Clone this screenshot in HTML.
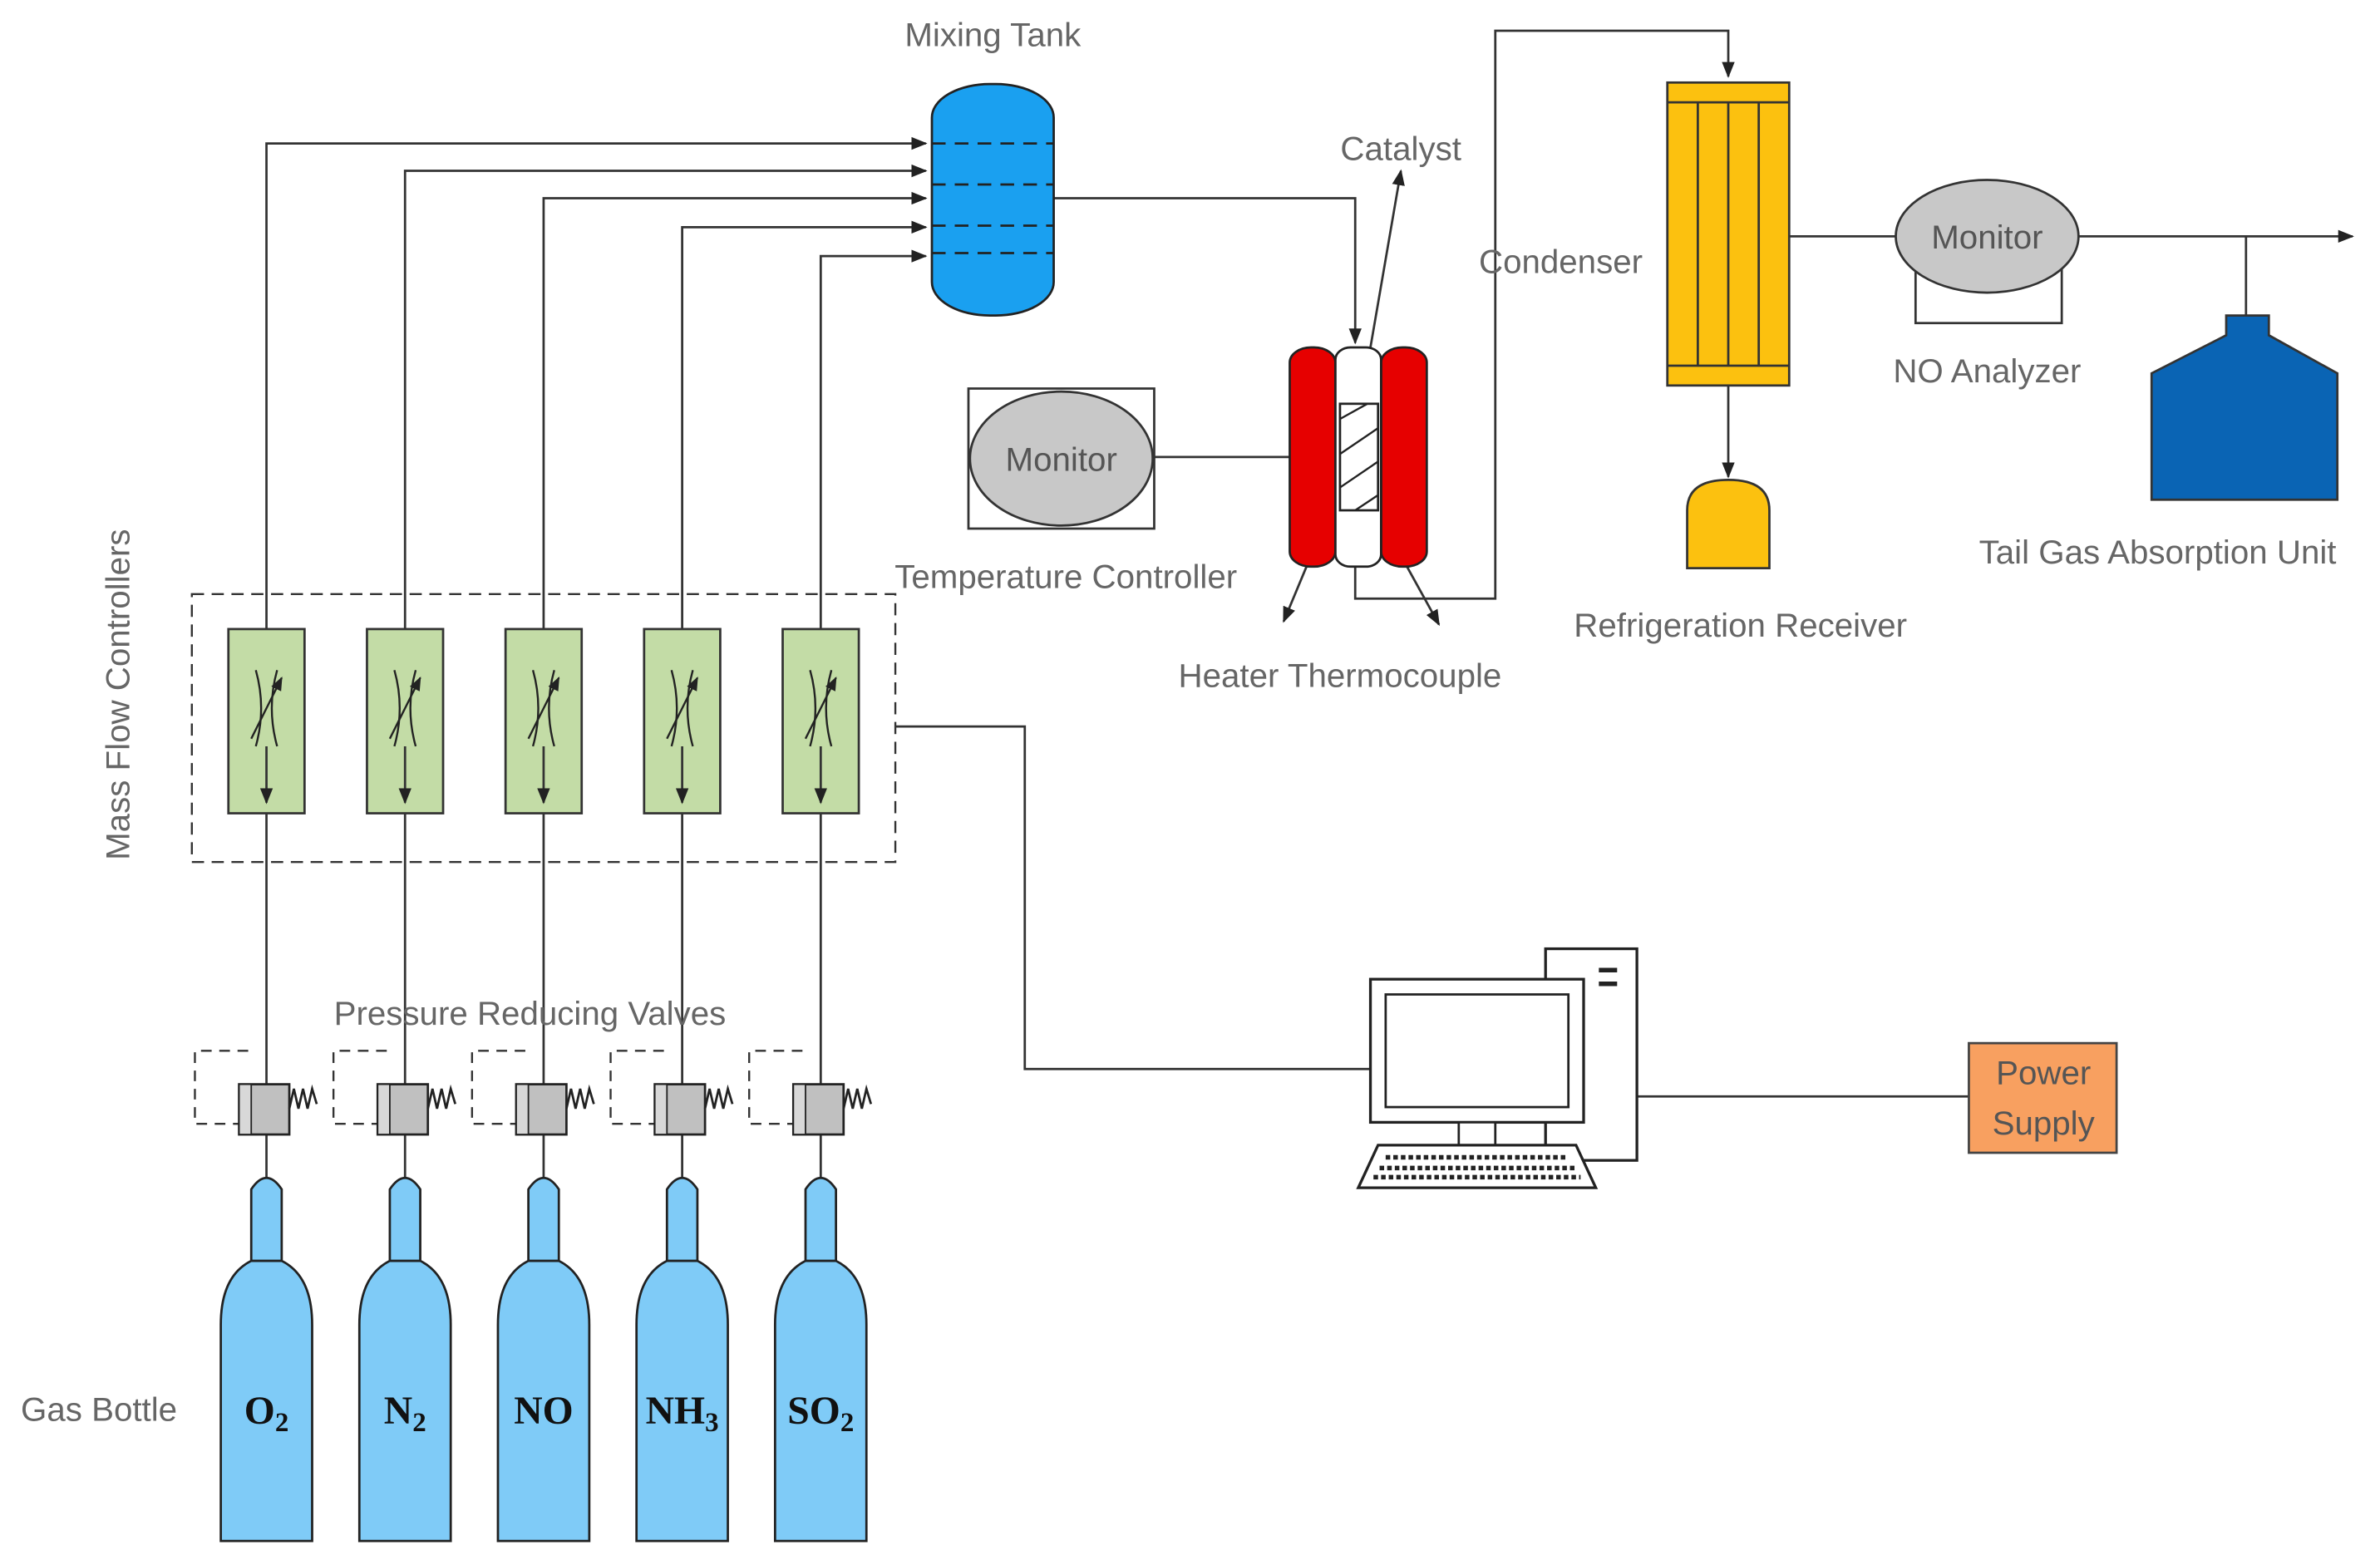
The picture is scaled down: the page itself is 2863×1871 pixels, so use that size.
<!DOCTYPE html>
<html><head><meta charset="utf-8"><style>html,body{margin:0;padding:0;background:#fff}svg{display:block}</style></head>
<body>
<svg width="2863" height="1871" viewBox="0 0 1563 1021" xmlns="http://www.w3.org/2000/svg" font-family="Liberation Sans, sans-serif">
<defs>
<marker id="a" viewBox="0 0 10 10" refX="9" refY="5" markerWidth="7" markerHeight="7" orient="auto"><path d="M0,1 L10,5 L0,9z" fill="#222"/></marker>
<g id="mfc">
<rect x="-25" y="413" width="50" height="121" fill="#c3dca6" stroke="#333" stroke-width="1.5"/>
<path d="M-7,440 Q0,465 -7,490 M7,440 Q0,465 7,490" fill="none" stroke="#222" stroke-width="1.3"/>
<line x1="-10" y1="485" x2="10" y2="445" stroke="#222" stroke-width="1.3" marker-end="url(#a)"/>
</g>
<g id="prv">
<path d="M-47,710 V690 H-10 M-47,715 V738 H-18" fill="none" stroke="#333" stroke-dasharray="7,5" stroke-width="1.3"/>
<rect x="-18" y="712" width="33" height="33" fill="#c0c0c0" stroke="#222" stroke-width="1.5"/>
<rect x="-18" y="712" width="8" height="33" fill="#d8d8d8" stroke="#222" stroke-width="1"/>
<path d="M15,728 L18,715 L21,728 L24,715 L27,728 L30,715 L33,725" fill="none" stroke="#222" stroke-width="1.5"/>
</g>
<g id="bot">
<path d="M-10,828 V781 Q0,766 10,781 V828 Z" fill="#7fcbf7" stroke="#222" stroke-width="1.5"/>
<path d="M-30,1012 V870 Q-30,838 -10,828 H10 Q30,838 30,870 V1012 Z" fill="#7fcbf7" stroke="#222" stroke-width="1.5"/>
</g>
</defs>

<g stroke="#333" stroke-width="1.5" fill="none">
<!-- feed lines -->
<polyline points="175,773 175,94 608,94" marker-end="url(#a)"/>
<polyline points="266,773 266,112 608,112" marker-end="url(#a)"/>
<polyline points="357,773 357,130 608,130" marker-end="url(#a)"/>
<polyline points="448,773 448,149 608,149" marker-end="url(#a)"/>
<polyline points="539,773 539,168 608,168" marker-end="url(#a)"/>
<polyline points="692,130 890,130 890,225" marker-end="url(#a)"/>
<polyline points="890,372 890,393 982,393 982,20 1135,20 1135,50" marker-end="url(#a)"/>
<line x1="900" y1="228" x2="920" y2="112" marker-end="url(#a)"/>
<line x1="858" y1="372" x2="843" y2="408" marker-end="url(#a)"/>
<line x1="924" y1="372" x2="945" y2="410" marker-end="url(#a)"/>
<line x1="758" y1="300" x2="847" y2="300"/>
<line x1="1135" y1="253" x2="1135" y2="313" marker-end="url(#a)"/>
<line x1="1175" y1="155" x2="1245" y2="155"/>
<line x1="1365" y1="155" x2="1545" y2="155" marker-end="url(#a)"/>
<line x1="1475" y1="155" x2="1475" y2="207"/>
<polyline points="588,477 673,477 673,702 900,702"/>
<line x1="1075" y1="720" x2="1293" y2="720"/>
</g>

<!-- mixing tank -->
<rect x="612" y="55" width="80" height="152" rx="38" ry="22" fill="#1aa0f0" stroke="#222" stroke-width="1.5"/>
<g stroke="#222" stroke-dasharray="9,6" stroke-width="1.5">
<line x1="612" y1="94" x2="692" y2="94"/><line x1="612" y1="121" x2="692" y2="121"/>
<line x1="612" y1="148" x2="692" y2="148"/><line x1="612" y1="166" x2="692" y2="166"/></g>

<!-- reactor -->
<rect x="847" y="228" width="30" height="144" rx="14" ry="10" fill="#e60000" stroke="#222" stroke-width="1.5"/>
<rect x="907" y="228" width="30" height="144" rx="14" ry="10" fill="#e60000" stroke="#222" stroke-width="1.5"/>
<rect x="877" y="228" width="30" height="144" rx="10" ry="8" fill="#fff" stroke="#222" stroke-width="1.5"/>
<rect x="880" y="265" width="25" height="70" fill="#fff" stroke="#222" stroke-width="1.5"/>
<g stroke="#222" stroke-width="1.3"><line x1="880" y1="275" x2="898" y2="265"/><line x1="880" y1="298" x2="905" y2="281"/><line x1="880" y1="320" x2="905" y2="303"/><line x1="890" y1="335" x2="905" y2="325"/></g>

<!-- temp monitor -->
<rect x="636" y="255" width="122" height="92" fill="#fff" stroke="#333" stroke-width="1.5"/>
<ellipse cx="697" cy="301" rx="60" ry="44" fill="#c8c8c8" stroke="#333" stroke-width="1.5"/>
<text x="697" y="309" font-size="22" fill="#555" text-anchor="middle">Monitor</text>

<!-- condenser -->
<rect x="1095" y="54" width="80" height="199" fill="#fcc10f" stroke="#333" stroke-width="1.5"/>
<g stroke="#333" stroke-width="1.5"><line x1="1095" y1="67" x2="1175" y2="67"/><line x1="1095" y1="240" x2="1175" y2="240"/>
<line x1="1115" y1="67" x2="1115" y2="240"/><line x1="1135" y1="67" x2="1135" y2="240"/><line x1="1155" y1="67" x2="1155" y2="240"/></g>
<path d="M1108,373 V335 Q1108,315 1135,315 Q1162,315 1162,335 V373 Z" fill="#fcc10f" stroke="#333" stroke-width="1.5"/>

<!-- NO analyzer -->
<rect x="1258" y="155" width="96" height="57" fill="#fff" stroke="#333" stroke-width="1.5"/>
<ellipse cx="1305" cy="155" rx="60" ry="37" fill="#c8c8c8" stroke="#333" stroke-width="1.5"/>
<text x="1305" y="163" font-size="22" fill="#555" text-anchor="middle">Monitor</text>

<!-- tail gas -->
<path d="M1462,207 H1490 V220 L1535,245 V328 H1413 V245 L1462,220 Z" fill="#0a64b4" stroke="#333" stroke-width="1.5"/>

<!-- MFC -->
<rect x="126" y="390" width="462" height="176" fill="none" stroke="#333" stroke-width="1.3" stroke-dasharray="8,5"/>
<use href="#mfc" x="175"/><use href="#mfc" x="266"/><use href="#mfc" x="357"/><use href="#mfc" x="448"/><use href="#mfc" x="539"/>
<g stroke="#333" stroke-width="1.5" marker-end="url(#a)">
<line x1="175" y1="490" x2="175" y2="527"/><line x1="266" y1="490" x2="266" y2="527"/><line x1="357" y1="490" x2="357" y2="527"/><line x1="448" y1="490" x2="448" y2="527"/><line x1="539" y1="490" x2="539" y2="527"/></g>

<use href="#prv" x="175"/><use href="#prv" x="266"/><use href="#prv" x="357"/><use href="#prv" x="448"/><use href="#prv" x="539"/>
<use href="#bot" x="175"/><use href="#bot" x="266"/><use href="#bot" x="357"/><use href="#bot" x="448"/><use href="#bot" x="539"/>
<g font-family="Liberation Serif, serif" font-weight="bold" font-size="26" fill="#111" text-anchor="middle">
<text x="175" y="935">O<tspan font-size="18" dy="5">2</tspan></text>
<text x="266" y="935">N<tspan font-size="18" dy="5">2</tspan></text>
<text x="357" y="935">NO</text>
<text x="448" y="935">NH<tspan font-size="18" dy="5">3</tspan></text>
<text x="539" y="935">SO<tspan font-size="18" dy="5">2</tspan></text>
</g>

<!-- computer -->
<rect x="1015" y="623" width="60" height="139" fill="#fff" stroke="#222" stroke-width="1.8"/>
<line x1="1050" y1="637" x2="1062" y2="637" stroke="#222" stroke-width="3"/><line x1="1050" y1="646" x2="1062" y2="646" stroke="#222" stroke-width="3"/>
<rect x="900" y="643" width="140" height="94" fill="#fff" stroke="#222" stroke-width="1.8"/>
<rect x="910" y="653" width="120" height="74" fill="#fff" stroke="#222" stroke-width="1.5"/>
<rect x="958" y="737" width="24" height="15" fill="#fff" stroke="#222" stroke-width="1.5"/>
<path d="M905,752 H1035 L1048,780 H892 Z" fill="#fff" stroke="#222" stroke-width="1.8"/>
<g stroke="#222" stroke-width="3" stroke-dasharray="3,2"><line x1="910" y1="760" x2="1030" y2="760"/><line x1="906" y1="767" x2="1035" y2="767"/><line x1="902" y1="773" x2="1038" y2="773"/></g>

<rect x="1293" y="685" width="97" height="72" fill="#f8a060" stroke="#444" stroke-width="1.5"/>
<text x="1342" y="712" font-size="22" fill="#555" text-anchor="middle">Power</text>
<text x="1342" y="745" font-size="22" fill="#555" text-anchor="middle">Supply</text>

<g font-size="22" fill="#666" text-anchor="middle">
<text x="652" y="30">Mixing Tank</text>
<text x="920" y="105">Catalyst</text>
<text x="1025" y="179">Condenser</text>
<text x="1305" y="251">NO Analyzer</text>
<text x="1417" y="370">Tail Gas Absorption Unit</text>
<text x="700" y="386">Temperature Controller</text>
<text x="880" y="451">Heater Thermocouple</text>
<text x="1143" y="418">Refrigeration Receiver</text>
<text x="348" y="673">Pressure Reducing Valves</text>
<text x="65" y="933">Gas Bottle</text>
<text transform="translate(85,456) rotate(-90)">Mass Flow Controllers</text>
</g>
</svg>
</body></html>
